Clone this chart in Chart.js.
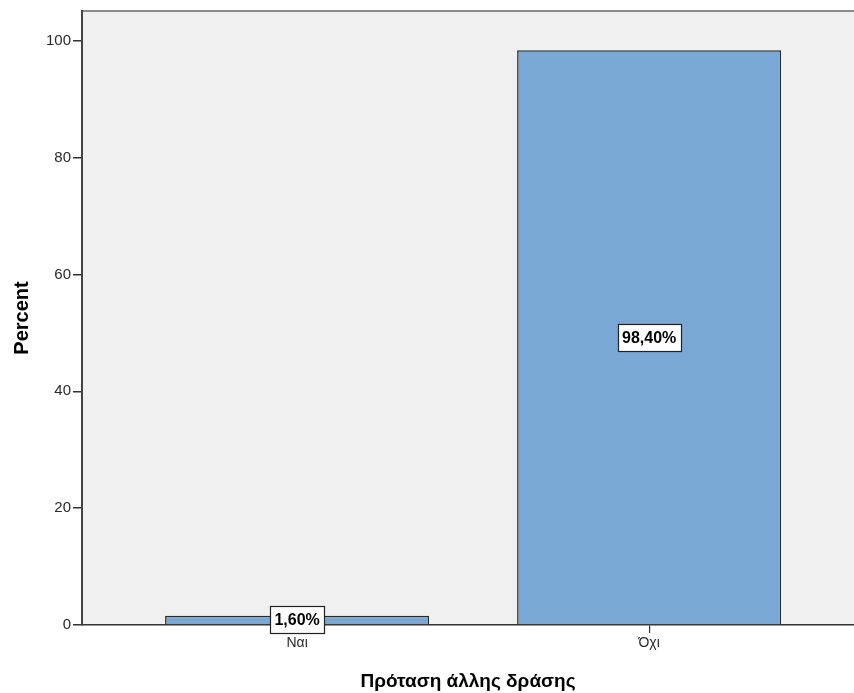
<!DOCTYPE html>
<html>
<head>
<meta charset="utf-8">
<script src="https://cdn.jsdelivr.net/npm/chart.js@4/dist/chart.umd.min.js"></script>
<style>
  html, body { margin: 0; padding: 0; background: #ffffff; }
  canvas { display: block; }
</style>
</head>
<body>
<canvas id="chart" width="854" height="693"></canvas>
<script>
// Categories and their percentages
const categories = ['Ναι', 'Όχι'];
const percentValues = [1.6, 98.4];
const yTickValues = [0, 20, 40, 60, 80, 100];
const xAxisTitle = 'Πρόταση άλλης δράσης';
const yAxisTitle = 'Percent';

const FONT = '"Liberation Sans", Arial, sans-serif';

// Grey plot background and top frame line
const plotFrame = {
  id: 'plotFrame',
  beforeDraw(chart) {
    const { ctx, chartArea: a } = chart;
    ctx.save();
    ctx.fillStyle = '#f0f0f0';
    ctx.fillRect(a.left, a.top, a.right - a.left, a.bottom - a.top);
    ctx.strokeStyle = '#8c8c8c';
    ctx.lineWidth = 2;
    ctx.beginPath();
    ctx.moveTo(a.left, a.top);
    ctx.lineTo(a.right, a.top);
    ctx.stroke();
    ctx.restore();
  }
};

// Boxed percentage labels in the middle of each bar
const valueBoxes = {
  id: 'valueBoxes',
  afterDatasetsDraw(chart) {
    const { ctx } = chart;
    const meta = chart.getDatasetMeta(0);
    meta.data.forEach((bar, i) => {
      const text = percentValues[i].toFixed(2).replace('.', ',') + '%';
      ctx.save();
      ctx.font = 'bold 16px ' + FONT;
      const w = Math.round(ctx.measureText(text).width + 9);
      const h = 27;
      const cx = bar.x;
      const cy = (bar.y + bar.base) / 2;
      const x0 = Math.round(cx - w / 2) + 0.5;
      const y0 = Math.round(cy - h / 2) + 0.5;
      ctx.fillStyle = '#ffffff';
      ctx.fillRect(x0, y0, w, h);
      ctx.strokeStyle = '#222222';
      ctx.lineWidth = 1.2;
      ctx.strokeRect(x0, y0, w, h);
      ctx.fillStyle = '#000000';
      ctx.textAlign = 'center';
      ctx.textBaseline = 'middle';
      ctx.fillText(text, cx, cy + 1);
      ctx.restore();
    });
  }
};

new Chart(document.getElementById('chart'), {
  type: 'bar',
  data: {
    datasets: [{
      data: percentValues.map((v, i) => ({ x: i, y: v })),
      backgroundColor: '#7aa8d5',
      borderColor: '#2a2a2a',
      borderWidth: 1.5,
      barPercentage: 0.75,
      categoryPercentage: 1
    }]
  },
  options: {
    responsive: false,
    animation: false,
    layout: { padding: { top: 9, right: 0, left: 0, bottom: 0 } },
    plugins: {
      legend: { display: false },
      tooltip: { enabled: false }
    },
    scales: {
      x: {
        type: 'linear',
        offset: false,
        min: -0.611,
        max: 1.582,
        afterBuildTicks: s => { s.ticks = categories.map((_, i) => ({ value: i })); },
        afterFit: s => { s.height = 68; },
        grid: { display: true, offset: false, drawOnChartArea: false, drawTicks: true, tickLength: 8, color: '#333333', lineWidth: 1.2 },
        border: { display: true, color: '#333333', width: 1.5 },
        ticks: {
          autoSkip: false,
          maxRotation: 0,
          padding: 2,
          color: '#2a2a2a',
          font: { family: FONT, size: 14 },
          callback: v => categories[v]
        },
        title: {
          display: true,
          text: xAxisTitle,
          color: '#000000',
          font: { family: FONT, size: 19, weight: 'bold' },
          padding: { top: 6, bottom: 0 }
        }
      },
      y: {
        min: 0,
        max: 105.1,
        afterBuildTicks: s => { s.ticks = yTickValues.map(v => ({ value: v })); },
        afterFit: s => { s.width = 82; },
        grid: { display: true, drawOnChartArea: false, drawTicks: true, tickLength: 9, color: '#333333', lineWidth: 1.5 },
        border: { display: true, color: '#444444', width: 2 },
        ticks: {
          padding: 2,
          color: '#2a2a2a',
          font: { family: FONT, size: 15 }
        },
        title: {
          display: true,
          text: yAxisTitle,
          color: '#000000',
          font: { family: FONT, size: 20, weight: 'bold' },
          padding: { top: 10, bottom: 0 }
        }
      }
    }
  },
  plugins: [plotFrame, valueBoxes]
});
</script>
</body>
</html>
